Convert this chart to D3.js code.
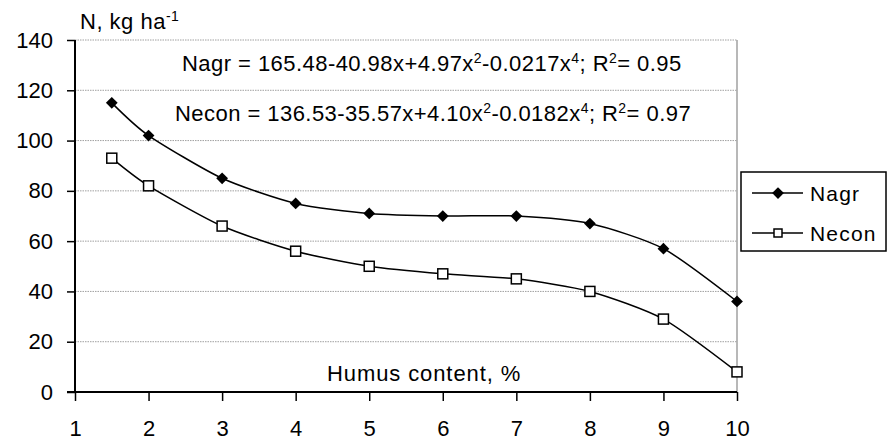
<!DOCTYPE html>
<html>
<head>
<meta charset="utf-8">
<style>
    body { margin: 0; background: #fff; }
    svg { font-family: "Liberation Sans", Arial, sans-serif; }
    .grid line { stroke: #a0a0a0; stroke-dasharray: 1.5 1; }
    .axis text { font-size: 22px; fill: #000; }
    .axis .domain { display: none; }
</style>
</head>
<body>
<svg width="887" height="443"></svg>
<script src="https://d3js.org/d3.v7.min.js"></script>
<script>
    // humus content, %
    const humus = [1.5, 2, 3, 4, 5, 6, 7, 8, 9, 10];
    // N, kg ha-1
    const nagr = [115, 102, 85, 75, 71, 70, 70, 67, 57, 36];
    const necon = [93, 82, 66, 56, 50, 47, 45, 40, 29, 8];
    const xTicks = [1, 2, 3, 4, 5, 6, 7, 8, 9, 10];
    const yTicks = [0, 20, 40, 60, 80, 100, 120, 140];

    let svg = d3.select("svg");
    let plot = { left: 75, right: 737, top: 40, bottom: 392 };

    let x = d3.scaleLinear().domain([1, 10]).range([plot.left, plot.right]);
    let y = d3.scaleLinear().domain([0, 140]).range([plot.bottom, plot.top]);

    // grid lines
    svg.append("g").attr("class", "grid")
        .selectAll("line")
        .data(yTicks.filter(d => d > 0))
        .join("line")
        .attr("x1", plot.left).attr("x2", plot.right)
        .attr("y1", d => y(d)).attr("y2", d => y(d));

    // right border of plot
    svg.append("line")
        .attr("x1", plot.right).attr("x2", plot.right)
        .attr("y1", plot.top).attr("y2", plot.bottom)
        .style("stroke", "#a0a0a0").style("stroke-width", 1.5);

    // axes
    let yAxis = svg.append("g").attr("class", "axis")
        .attr("transform", `translate(${plot.left},0)`)
        .call(d3.axisLeft(y).tickValues(yTicks).tickSize(8).tickPadding(14));
    yAxis.selectAll(".tick line").style("stroke", "#000").style("stroke-width", 1.5);

    let xAxis = svg.append("g").attr("class", "axis")
        .attr("transform", `translate(0,${plot.bottom})`)
        .call(d3.axisBottom(x).tickValues(xTicks).tickSize(9).tickPadding(19));
    xAxis.selectAll(".tick line").style("stroke", "#000").style("stroke-width", 1.5);

    svg.append("line")
        .attr("x1", plot.left).attr("x2", plot.left).attr("y1", plot.top).attr("y2", plot.bottom)
        .style("stroke", "#000").style("stroke-width", 2);
    svg.append("line")
        .attr("x1", plot.left - 8).attr("x2", plot.right).attr("y1", plot.bottom).attr("y2", plot.bottom)
        .style("stroke", "#000").style("stroke-width", 2);

    // lines
    let line = d3.line()
        .x((d, i) => x(humus[i]))
        .y(d => y(d))
        .curve(d3.curveCardinal.tension(0.3));

    [nagr, necon].forEach(series => {
        svg.append("path")
            .attr("d", line(series))
            .style("fill", "none")
            .style("stroke", "#000")
            .style("stroke-width", 1.5);
    });

    let diamond = d3.symbol().type(d3.symbolDiamond2).size(88);

    svg.append("g").selectAll("path")
        .data(nagr)
        .join("path")
        .attr("d", diamond)
        .attr("transform", (d, i) => `translate(${x(humus[i])},${y(d)})`)
        .style("fill", "#000");

    svg.append("g").selectAll("rect")
        .data(necon)
        .join("rect")
        .attr("x", (d, i) => x(humus[i]) - 5)
        .attr("y", d => y(d) - 5)
        .attr("width", 10).attr("height", 10)
        .style("fill", "#fff")
        .style("stroke", "#000")
        .style("stroke-width", 1.5);

    // texts
    function supText(sel, parts) {
        parts.forEach(p => {
            let t = sel.append("tspan").text(p[0]);
            if (p[1]) t.attr("font-size", "14px").attr("baseline-shift", "super");
        });
    }

    let yTitle = svg.append("text").attr("x", 80).attr("y", 29)
        .style("font-size", "22px").style("letter-spacing", "0.5px");
    supText(yTitle, [["N, kg ha"], ["-1", true]]);

    let eq1 = svg.append("text").attr("x", 182).attr("y", 71)
        .style("font-size", "22px").style("letter-spacing", "0.45px");
    supText(eq1, [["Nagr = 165.48-40.98x+4.97x"], ["2", true], ["-0.0217x"], ["4", true],
        ["; R"], ["2", true], ["= 0.95"]]);

    let eq2 = svg.append("text").attr("x", 175).attr("y", 121)
        .style("font-size", "22px").style("letter-spacing", "0.45px");
    supText(eq2, [["Necon = 136.53-35.57x+4.10x"], ["2", true], ["-0.0182x"], ["4", true],
        ["; R"], ["2", true], ["= 0.97"]]);

    svg.append("text").attr("x", 327).attr("y", 381)
        .style("font-size", "22px").style("letter-spacing", "0.9px")
        .text("Humus content, %");

    // legend
    let legend = svg.append("g");
    legend.append("rect")
        .attr("x", 741).attr("y", 172).attr("width", 145).attr("height", 79)
        .style("fill", "#fff").style("stroke", "#000").style("stroke-width", 1.5);

    let items = [["Nagr", 193], ["Necon", 233]];
    items.forEach((it, i) => {
        legend.append("line")
            .attr("x1", 752).attr("x2", 803).attr("y1", it[1]).attr("y2", it[1])
            .style("stroke", "#000").style("stroke-width", 1.5);
        if (i == 0) {
            legend.append("path").attr("d", diamond)
                .attr("transform", `translate(778,${it[1]})`).style("fill", "#000");
        } else {
            legend.append("rect").attr("x", 774).attr("y", it[1] - 4)
                .attr("width", 8).attr("height", 8)
                .style("fill", "#fff").style("stroke", "#000").style("stroke-width", 1.5);
        }
        legend.append("text").attr("x", 810).attr("y", it[1] + 8)
            .style("font-size", "21px").style("letter-spacing", "1.2px").text(it[0]);
    });
</script>
</body>
</html>
